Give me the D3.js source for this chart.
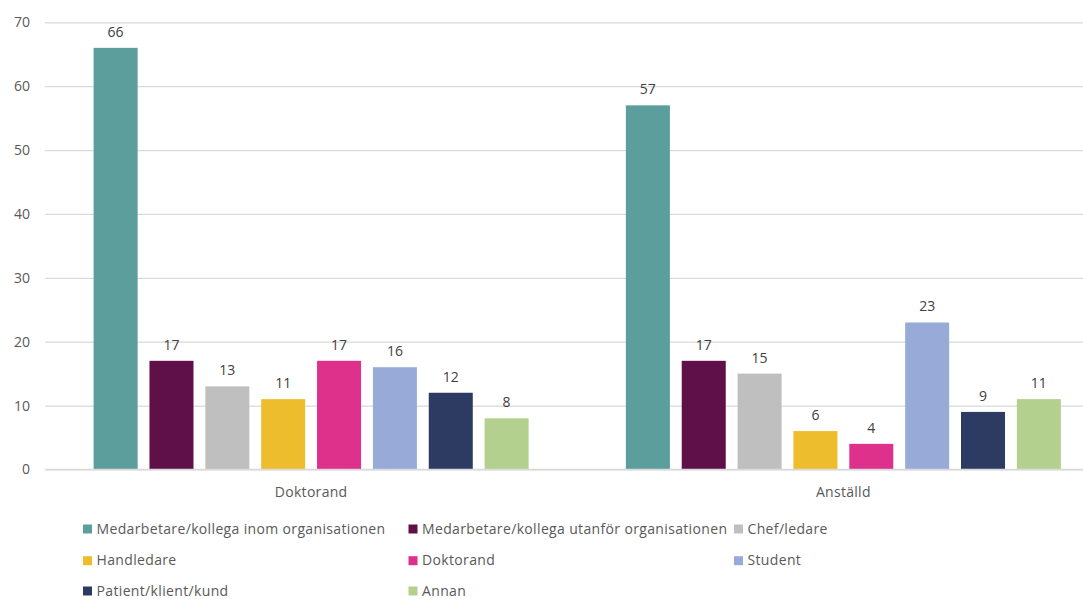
<!DOCTYPE html>
<html>
<head>
<meta charset="utf-8">
<script src="https://cdn.jsdelivr.net/npm/d3@7"></script>
<style>
  html, body { margin: 0; padding: 0; background: #fff; }
  svg { display: block; }
  text { font-family: "Open Sans", "Noto Sans", sans-serif; }
</style>
</head>
<body>
<div id="chart"></div>
<script>
const categories = ["Doktorand", "Anställd"];
const seriesNames = [
  "Medarbetare/kollega inom organisationen",
  "Medarbetare/kollega utanför organisationen",
  "Chef/ledare",
  "Handledare",
  "Doktorand",
  "Student",
  "Patient/klient/kund",
  "Annan"
];
const valuesDoktorand = [66, 17, 13, 11, 17, 16, 12, 8];
const valuesAnstalld  = [57, 17, 15, 6, 4, 23, 9, 11];
const seriesColors = ["#5B9E9B", "#5F1048", "#BFBFBF", "#EDBD2E", "#DD318B", "#98AAD8", "#2D3A62", "#B3D08F"];
const yTicks = [0, 10, 20, 30, 40, 50, 60, 70];

const W = 1083, H = 599;
const margin = { left: 45, top: 22.3, bottom: 469.4 };
const plotRight = 1109.5;

const svg = d3.select("#chart").append("svg")
  .attr("width", W).attr("height", H);

const y = d3.scaleLinear().domain([0, 70]).range([margin.bottom, margin.top]);
const x0 = d3.scaleBand().domain(categories).range([margin.left, plotRight])
  .paddingInner(0.1827).paddingOuter(0.1827 / 2);
const x1 = d3.scaleBand().domain(seriesNames).range([0, x0.bandwidth()])
  .paddingInner(0.212).paddingOuter(0);

const valuesByCat = { "Doktorand": valuesDoktorand, "Anställd": valuesAnstalld };

// gridlines
const yAxis = d3.axisLeft(y).tickValues(yTicks).tickSize(-(plotRight - margin.left)).tickPadding(15);
const gAxis = svg.append("g").attr("transform", `translate(${margin.left},0)`).call(yAxis);
gAxis.select(".domain").remove();
gAxis.selectAll(".tick line").attr("stroke", "#D9D9D9").attr("stroke-width", 1.3);
gAxis.selectAll(".tick text").attr("fill", "#595959").attr("font-size", 14);

// bars
const groups = svg.append("g").selectAll("g").data(categories).join("g")
  .attr("transform", d => `translate(${x0(d)},0)`);

groups.selectAll("rect")
  .data(c => valuesByCat[c].map((v, i) => ({ s: seriesNames[i], v, i })))
  .join("rect")
  .attr("x", d => x1(d.s))
  .attr("width", x1.bandwidth())
  .attr("y", d => y(d.v))
  .attr("height", d => y(0) - y(d.v))
  .attr("fill", d => seriesColors[d.i]);

groups.selectAll("text.lbl")
  .data(c => valuesByCat[c].map((v, i) => ({ s: seriesNames[i], v, i })))
  .join("text")
  .attr("class", "lbl")
  .attr("x", d => x1(d.s) + x1.bandwidth() / 2)
  .attr("y", d => y(d.v) - 11)
  .attr("text-anchor", "middle")
  .attr("font-size", 14)
  .attr("fill", "#404040")
  .text(d => d.v);

// baseline
svg.append("line")
  .attr("x1", margin.left).attr("x2", plotRight)
  .attr("y1", y(0)).attr("y2", y(0))
  .attr("stroke", "#D9D9D9").attr("stroke-width", 1.5);

// category labels
svg.append("g").selectAll("text").data(categories).join("text")
  .attr("x", d => x0(d) + x0.bandwidth() / 2)
  .attr("y", 497)
  .attr("text-anchor", "middle")
  .attr("font-size", 14)
  .attr("fill", "#595959")
  .attr("letter-spacing", 0.3)
  .text(d => d);

// legend
const legendCols = [83, 408.5, 734];
const legendRows = [529, 560.7, 591];
const leg = svg.append("g").selectAll("g").data(seriesNames).join("g")
  .attr("transform", (d, i) => `translate(${legendCols[i % 3]},${legendRows[Math.floor(i / 3)]})`);
leg.append("rect").attr("x", 0).attr("y", -4.5).attr("width", 9).attr("height", 9)
  .attr("fill", (d, i) => seriesColors[i]);
leg.append("text").attr("x", 13.5).attr("y", 4.5)
  .attr("font-size", 14).attr("letter-spacing", 0.35).attr("fill", "#595959").text(d => d);
</script>
</body>
</html>
